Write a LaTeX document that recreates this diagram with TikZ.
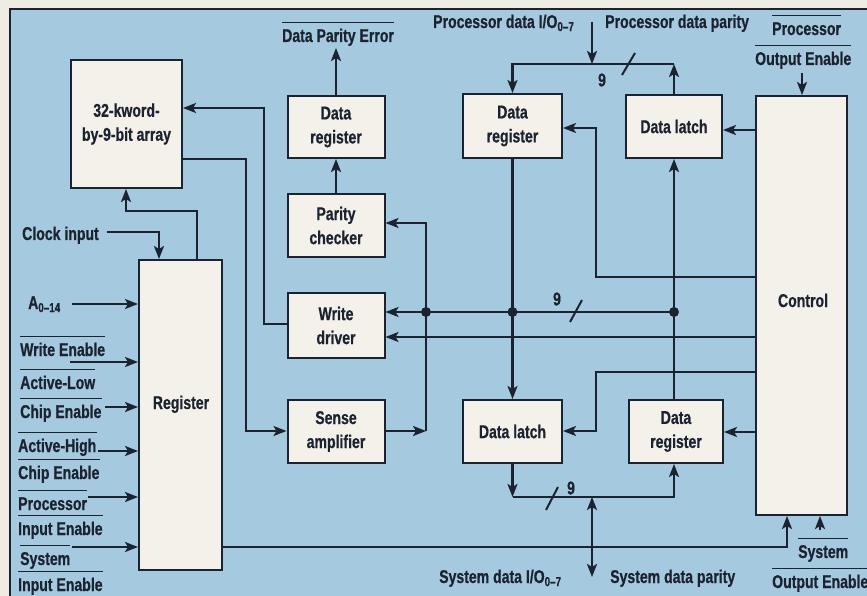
\documentclass[tikz,border=0pt]{standalone}
\usepackage{fontspec}
\setmainfont{Liberation Sans}[FakeStretch=0.76,FakeBold=0.6]
\usetikzlibrary{arrows.meta}
\definecolor{panelblue}{HTML}{A5C9DF}
\definecolor{boxfill}{HTML}{F4F1EA}
\definecolor{paper}{HTML}{EFECE4}
\definecolor{ink}{HTML}{1C2330}
\newcommand\lblfont{\fontsize{18.5}{24}\selectfont\bfseries}
\newcommand\olin[1]{\draw[ovl] ([yshift=19.5pt]#1.base west) -- ([yshift=19.5pt]#1.base east);}
\begin{document}
\begin{tikzpicture}[x=1pt,y=-1pt,
  box/.style={draw=ink, fill=boxfill, line width=2pt, inner sep=0pt, align=center, font=\lblfont, text=ink},
  txt/.style={inner sep=0pt, font=\lblfont, text=ink, anchor=base west},
  num/.style={inner sep=0pt, font=\lblfont, text=ink},
  wire/.style={draw=ink, line width=2.2pt},
  arw/.style={wire, -{Stealth[length=13pt,width=10pt,inset=3pt]}},
  arwb/.style={wire, {Stealth[length=13pt,width=10pt,inset=3pt]}-{Stealth[length=13pt,width=10pt,inset=3pt]}},
  ovl/.style={draw=ink, line width=1.3pt},
  slashmark/.style={draw=ink, line width=2pt}]
\useasboundingbox (0,0) rectangle (867,596);
\fill[paper] (0,0) rectangle (867,596);
\draw[ink, line width=2pt, fill=panelblue] (10,9) rectangle (890,620);

% guide coordinates
\foreach \x in {126,159,197,246,264,426,592,596,674,787,802,820} {\coordinate (v\x) at (\x,0);}
\foreach \y in {22,48,64,73,108,128,130,159,211,223,277,312,324,337,372,431,432,497,530,547,577} {\coordinate (h\y) at (0,\y);}

% boxes
\node[box, minimum width=111pt, minimum height=128pt] (arr) at (126.5,124) {32-kword-\\by-9-bit array};
\node[box, minimum width=83pt, minimum height=310pt] (reg) at (180.5,415) {};
\node[txt, anchor=base] (regl) at (181,409) {Register};
\node[box, minimum width=97pt, minimum height=62pt] (dr1) at (336,127) {Data\\register};
\node[box, minimum width=97pt, minimum height=63pt] (pc) at (336,225.5) {Parity\\checker};
\node[box, minimum width=97pt, minimum height=65pt] (wd) at (336,325.5) {Write\\driver};
\node[box, minimum width=97pt, minimum height=63pt] (sa) at (336,431.5) {Sense\\amplifier};
\node[box, minimum width=99pt, minimum height=64pt] (dr2) at (512.5,126) {Data\\register};
\node[box, minimum width=96pt, minimum height=63pt] (dl1) at (674,126.5) {Data latch};
\node[box, minimum width=99pt, minimum height=63pt] (dl2) at (512.5,431.5) {Data latch};
\node[box, minimum width=94pt, minimum height=63pt] (dr3) at (676,431.5) {Data\\register};
\node[box, minimum width=91pt, minimum height=419pt] (ctl) at (801.5,305.5) {};
\node[txt, anchor=base] (ctll) at (803,307) {Control};

% left labels
\node[txt] (lclk) at (22,240) {Clock input};
\node[txt] (lA) at (28,309) {A\textsubscript{0–14}};
\node[txt] (lWE) at (20,356) {Write Enable}; \olin{lWE}
\node[txt] (lAL) at (20,389) {Active-Low}; \olin{lAL}
\node[txt] (lCE1) at (20,418) {Chip Enable}; \olin{lCE1}
\node[txt] (lAH) at (18,452) {Active-High}; \olin{lAH}
\node[txt] (lCE2) at (18,479) {Chip Enable}; \olin{lCE2}
\node[txt] (lPr) at (18,510) {Processor}; \olin{lPr}
\node[txt] (lIE1) at (18,535) {Input Enable}; \olin{lIE1}
\node[txt] (lSy) at (20,565) {System}; \olin{lSy}
\node[txt] (lIE2) at (18,591) {Input Enable}; \olin{lIE2}

% top labels
\node[txt] (lDPE) at (282,42) {Data Parity Error}; \olin{lDPE}
\node[txt] (lPIO) at (433,28) {Processor data I/O\textsubscript{0–7}};
\node[txt] (lPDP) at (605,28) {Processor data parity};
\node[txt] (lPOE1) at (772,35) {Processor}; \olin{lPOE1}
\node[txt] (lPOE2) at (755,65) {Output Enable}; \olin{lPOE2}

% bottom labels
\node[txt] (lSIO) at (439,583) {System data I/O\textsubscript{0–7}};
\node[txt] (lSDP) at (610,583) {System data parity};
\node[txt] (lSOE1) at (798,558) {System}; \olin{lSOE1}
\node[txt] (lSOE2) at (772,588) {Output Enable}; \olin{lSOE2}

% bus width labels
\node[num] (n9a) at (602,80) {9};
\node[num] (n9b) at (557,299) {9};
\node[num] (n9c) at (571,488) {9};
\draw[slashmark] (622,75) -- (635,53);
\draw[slashmark] (570,322) -- (582,300);
\draw[slashmark] (546,510) -- (558,487);

% left inputs
\coordinate (sClk) at (107,232);
\coordinate (sA) at (72,304);
\coordinate (sWE) at (70,362);
\coordinate (sCE1) at (105,407);
\coordinate (sAH) at (98,451);
\coordinate (sPr) at (88,497);
\coordinate (sSy) at (72,547);
\draw[arw] (sClk) -| (v159 |- reg.north);
\draw[arw] (sA) -- (sA -| reg.west);
\draw[arw] (sWE) -- (sWE -| reg.west);
\draw[arw] (sCE1) -- (sCE1 -| reg.west);
\draw[arw] (sAH) -- (sAH -| reg.west);
\draw[arw] (sPr) -- (sPr -| reg.west);
\draw[arw] (sSy) -- (sSy -| reg.west);

% array paths
\draw[arw] (v197 |- reg.north) |- (v126 |- h211) -- (v126 |- arr.south);
\draw[arw] (arr.east |- h159) -| (v246 |- h431) -- (sa.west |- h431);
\draw[arw] (wd.west |- h324) -| (v264 |- h108) -- (arr.east |- h108);

% parity path
\draw[arw] (sa.east |- h431) -- (v426 |- h431);
\draw[arw] (v426 |- h431) |- (pc.east |- h223);
\draw[arw] (pc.north) -- (dr1.south);
\draw[arw] (dr1.north) -- (dr1.north |- h48);

% internal bus
\draw[arw] (v674 |- h312) -- (wd.east |- h312);
\draw[arw] (ctl.west |- h337) -- (wd.east |- h337);
\draw[arw] (dr2.south) -- (dl2.north);
\draw[arw] (v674 |- dr3.north) -- (v674 |- dl1.south);
\fill[ink] (v426 |- h312) circle (5pt);
\fill[ink] (dr2.south |- h312) circle (5pt);
\fill[ink] (v674 |- h312) circle (5pt);

% processor side
\draw[arw] (v674 |- dl1.north) -- (v674 |- h64);
\draw[arw] (v674 |- h64) -| (dr2.north);
\draw[arw] (v592 |- h22) -- (v592 |- h64);

% control lines
\draw[arw] (ctl.west |- h130) -- (dl1.east |- h130);
\draw[arw] (ctl.west |- h277) -| (v596 |- h128) -- (dr2.east |- h128);
\draw[arw] (ctl.west |- h372) -| (v596 |- h431) -- (dl2.east |- h431);
\draw[arw] (ctl.west |- h432) -- (dr3.east |- h432);
\draw[arw] (v802 |- h73) -- (v802 |- ctl.north);
\draw[arw] (v820 |- h530) -- (v820 |- ctl.south);
\draw[arw] (reg.east |- h547) -| (v787 |- ctl.south);

% system side
\draw[arw] (dl2.south) -- (dl2.south |- h497);
\draw[arw] (dl2.south |- h497) -| (v674 |- dr3.south);
\draw[arwb] (v592 |- h497) -- (v592 |- h577);
\end{tikzpicture}
\end{document}
